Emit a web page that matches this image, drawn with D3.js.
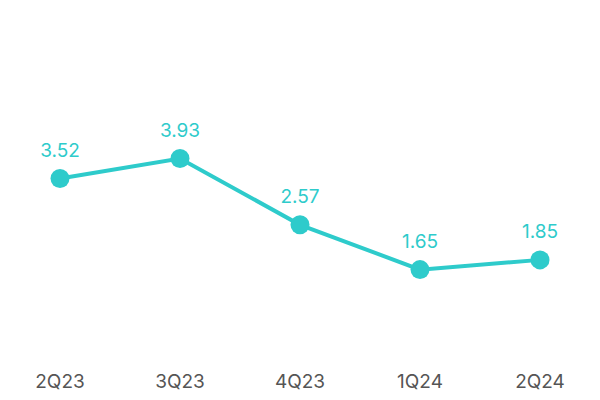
<!DOCTYPE html>
<html><head><meta charset="utf-8">
<script src="https://cdn.jsdelivr.net/npm/d3@7"></script>
<style>body{margin:0;background:#fff}</style></head>
<body><svg id="c" width="600" height="400"></svg>
<script>
const categories = ["2Q23","3Q23","4Q23","1Q24","2Q24"];
const values = [3.52,3.93,2.57,1.65,1.85];
const svg = d3.select("#c");
const color = "#2ECBCB";
const x = d3.scalePoint().domain(categories).range([60,540]);
const y = d3.scaleLinear().domain([0,7]).range([350,9]);
const line = d3.line().x((d,i)=>x(categories[i])).y(d=>y(d));
svg.append("path").datum(values).attr("d",line).attr("fill","none")
  .attr("stroke",color).attr("stroke-width",4);
svg.selectAll("circle").data(values).join("circle")
  .attr("cx",(d,i)=>x(categories[i])).attr("cy",d=>y(d)).attr("r",9.5).attr("fill",color);
svg.selectAll("text.v").data(values).join("text").attr("class","v")
  .attr("x",(d,i)=>x(categories[i])).attr("y",d=>y(d)-22)
  .attr("text-anchor","middle").attr("font-family","Inter, 'Noto Sans', sans-serif")
  .attr("font-size",19).attr("fill",color).text(d=>d.toFixed(2));
svg.selectAll("text.c").data(categories).join("text").attr("class","c")
  .attr("x",d=>x(d)).attr("y",388)
  .attr("text-anchor","middle").attr("font-family","Inter, 'Noto Sans', sans-serif")
  .attr("font-size",19).attr("fill","#555").text(d=>d);
</script></body></html>
